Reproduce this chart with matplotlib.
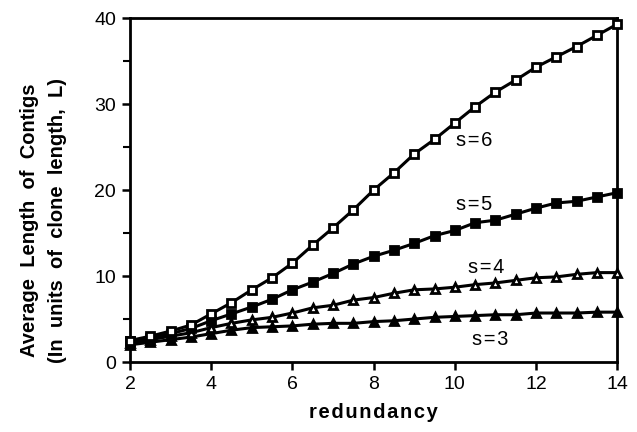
import matplotlib
matplotlib.use("Agg")
import matplotlib.pyplot as plt
from matplotlib.ticker import MultipleLocator

redundancy = [2.0, 2.5, 3.0, 3.5, 4.0, 4.5, 5.0, 5.5, 6.0, 6.5, 7.0, 7.5, 8.0,
              8.5, 9.0, 9.5, 10.0, 10.5, 11.0, 11.5, 12.0, 12.5, 13.0, 13.5, 14.0]
s6 = [2.5, 3.0, 3.6, 4.3, 5.6, 6.9, 8.4, 9.8, 11.5, 13.6, 15.6, 17.7, 20.0,
      22.0, 24.2, 25.9, 27.8, 29.7, 31.4, 32.8, 34.3, 35.5, 36.7, 38.0, 39.3]
s5 = [2.4, 2.8, 3.3, 3.9, 4.8, 5.6, 6.4, 7.3, 8.4, 9.3, 10.3, 11.4, 12.3,
      13.0, 13.8, 14.7, 15.3, 16.2, 16.5, 17.2, 17.9, 18.5, 18.7, 19.2, 19.7]
s4 = [2.2, 2.6, 3.0, 3.4, 4.0, 4.5, 4.9, 5.2, 5.7, 6.3, 6.6, 7.2, 7.5,
      8.0, 8.4, 8.5, 8.7, 9.0, 9.2, 9.5, 9.8, 9.9, 10.2, 10.4, 10.4]
s3 = [2.0, 2.3, 2.6, 2.9, 3.3, 3.7, 4.0, 4.1, 4.2, 4.4, 4.5, 4.5, 4.7,
      4.8, 5.0, 5.2, 5.3, 5.4, 5.5, 5.5, 5.7, 5.7, 5.7, 5.8, 5.8]
series_labels = ["s=6", "s=5", "s=4", "s=3"]
x_ticks = [2, 4, 6, 8, 10, 12, 14]
y_ticks = [0, 10, 20, 30, 40]

plt.rcParams['font.family'] = ['Liberation Sans', 'DejaVu Sans']

fig = plt.figure(figsize=(6.37, 4.32), dpi=100)
ax = fig.add_axes([0.204, 0.162, 0.765, 0.796])

common = dict(color='black', lw=2.2, ms=5.8, mec='black', mew=2.0, clip_on=False)
ax.plot(redundancy, s6, marker='s', mfc='white', zorder=5, **common)
ax.plot(redundancy, s5, marker='s', mfc='black', zorder=4, **common)
ax.plot(redundancy, s4, marker='^', mfc='white', zorder=3, **common)
ax.plot(redundancy, s3, marker='^', mfc='black', zorder=2, **common)

label_pos = [(10.48, 25.8), (10.48, 18.3), (10.77, 11.0), (10.87, 2.6)]
for lab, (lx, ly) in zip(series_labels, label_pos):
    ax.text(lx, ly, lab.replace("=", "\u200a=\u200a"), fontsize=14.5,
            ha='center', va='center')

ax.set_xlim(2, 14)
ax.set_ylim(0, 40)
ax.set_xticks(x_ticks)
ax.set_yticks(y_ticks)
ax.yaxis.set_minor_locator(MultipleLocator(5))
ax.tick_params(axis='both', which='major', direction='out', length=6, width=1.8,
               labelsize=14, pad=4)
ax.tick_params(axis='y', which='minor', direction='out', length=5, width=1.5)
for sp in ax.spines.values():
    sp.set_linewidth(2)

ax.set_xlabel("r e d u n d a n c y".replace(" ", "\u200a"), fontsize=14.5,
              fontweight='bold', labelpad=7)
fig.text(0.047, 0.49, "Average  Length  of  Contigs", rotation=90, fontsize=14.5,
         fontweight='bold', ha='center', va='center')
fig.text(0.09, 0.49, "(In  units  of  clone  length,  L)", rotation=90,
         fontsize=14.5, fontweight='bold', ha='center', va='center')

fig.savefig("out.png", dpi=100)
